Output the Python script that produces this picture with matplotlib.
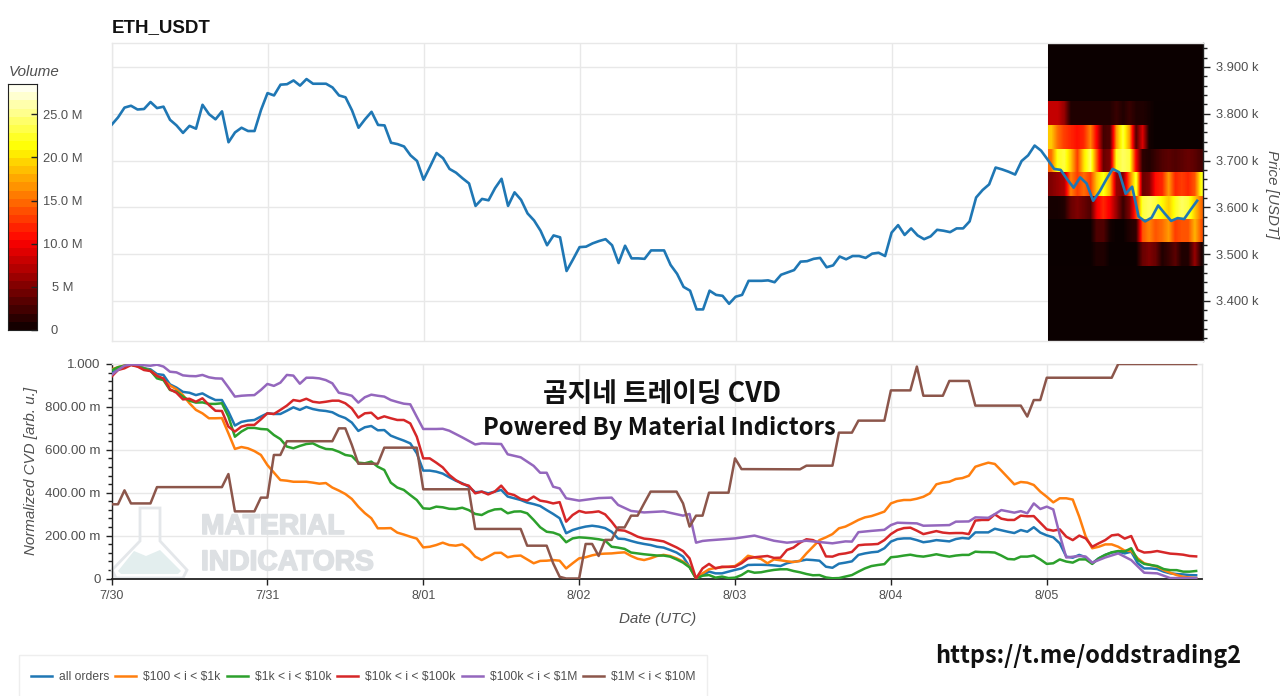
import numpy as np
import matplotlib
matplotlib.use("Agg")
from matplotlib import pyplot as plt
from matplotlib.patches import Polygon, Rectangle
import matplotlib.patheffects as pe

# --- data ---
DAY_LABELS = ["7/30", "7/31", "8/01", "8/02", "8/03", "8/04", "8/05"]
DAY_HOURS = [0, 24, 48, 72, 96, 120, 144]

price = [
    3776, 3792, 3813, 3817, 3809, 3810, 3825, 3812, 3815, 3787, 3775, 3759, 3774, 3768, 3819, 3799, 3788, 3805, 3739, 3760, 3770, 3763, 3763, 3808,
    3844, 3839, 3862, 3863, 3871, 3860, 3874, 3864, 3864, 3864, 3856, 3839, 3835, 3807, 3770, 3788, 3804, 3776, 3775, 3738, 3735, 3730, 3711, 3699,
    3659, 3687, 3716, 3705, 3682, 3674, 3662, 3651, 3603, 3618, 3615, 3641, 3661, 3603, 3632, 3616, 3587, 3572, 3550, 3519, 3540, 3536, 3464, 3489,
    3515, 3516, 3523, 3528, 3532, 3519, 3481, 3518, 3491, 3491, 3490, 3508, 3508, 3508, 3477, 3458, 3430, 3422, 3382, 3382, 3422, 3413, 3411, 3394,
    3409, 3413, 3443, 3443, 3443, 3444, 3440, 3456, 3461, 3466, 3484, 3485, 3490, 3492, 3472, 3476, 3495, 3489, 3496, 3496, 3492, 3501, 3503, 3496,
    3546, 3562, 3541, 3555, 3540, 3532, 3538, 3552, 3550, 3547, 3555, 3555, 3570, 3621, 3637, 3649, 3685, 3681, 3676, 3670, 3699, 3711, 3732, 3721,
    3702, 3682, 3680, 3660, 3642, 3664, 3651, 3614, 3634, 3659, 3682, 3675, 3629, 3644, 3580, 3570, 3578, 3604, 3587, 3571, 3577, 3575, 3595, 3614,
]

# volume heatmap for 8/05, one row per 50 USD price bin, one value per hour (M)
vol_3800 = [8, 8, 6, 1, 1, 1, 1, 1, 1, 1, 2, 1, 2, 1, 1, 0.5, 0, 0, 0, 0, 0, 0, 0, 0]
vol_3750 = [19, 15, 13, 12, 11, 12, 16, 10, 2.5, 3, 17, 23, 17, 3, 9, 0.5, 0, 0, 0, 0, 0, 0, 0, 0]
vol_3700 = [15, 22, 23, 19, 13, 20, 24, 14, 4, 5, 22, 24, 23, 10, 1.5, 1, 2, 3, 3.5, 3, 3.5, 4, 3.5, 2.5]
vol_3650 = [5, 6, 7, 16, 13, 15, 13, 19, 22, 18, 6, 5, 15, 23, 4, 5, 11, 12, 17, 12, 13, 12, 14, 22]
vol_3600 = [0.5, 0.5, 1, 4, 5, 4, 3, 10, 12, 10, 6, 2, 5, 13, 23, 24, 23, 21, 19, 22, 24, 23, 19, 15]
vol_3550 = [0, 0, 0, 0, 0, 0, 0, 3, 3, 0.5, 0, 0, 1, 1.5, 14, 16, 14, 15, 17, 13, 14, 14, 18, 14]
vol_3500 = [0, 0, 0, 0, 0, 0, 0, 1, 1, 0, 0, 0, 0, 0, 4, 5, 4, 1, 2, 3.5, 1, 1, 6, 1]
VOL_BIN_EDGES = [3475, 3525, 3575, 3625, 3675, 3725, 3775, 3825]
VOLUME_TICKS = [0, 5, 10, 15, 20, 25]
VOLUME_LABELS = ["0", "5 M", "10.0 M", "15.0 M", "20.0 M", "25.0 M"]

all_orders = [
    .956, .975, .988, .997, .994, .980, .975, .953, .949, .905, .890, .870, .866, .855, .863, .846, .832, .832, .778, .713, .730, .736, .739, .755,
    .770, .767, .767, .782, .798, .786, .800, .790, .784, .781, .775, .759, .748, .727, .688, .705, .711, .691, .692, .666, .654, .643, .630, .584,
    .503, .503, .498, .489, .472, .456, .444, .428, .402, .405, .397, .405, .413, .382, .374, .366, .354, .347, .338, .319, .301, .281, .211, .226,
    .235, .242, .246, .242, .235, .218, .186, .184, .175, .167, .161, .156, .148, .144, .133, .121, .102, .055, 0, .016, .032, .024, .024, .032,
    .040, .047, .063, .064, .064, .063, .061, .058, .071, .078, .082, .088, .086, .083, .055, .050, .069, .074, .080, .110, .117, .122, .125, .141,
    .172, .184, .187, .187, .179, .169, .173, .179, .176, .173, .184, .189, .186, .215, .215, .215, .232, .225, .218, .212, .226, .218, .239, .214,
    .201, .192, .164, .102, .097, .110, .099, .071, .094, .110, .121, .125, .117, .125, .071, .047, .047, .044, .032, .024, .021, .019, .016, .015,
]
orders_100_1k = [
    .975, .985, .993, .997, .990, .980, .969, .945, .925, .900, .882, .855, .817, .786, .770, .747, .747, .748, .677, .604, .613, .607, .594, .576,
    .529, .494, .459, .456, .451, .451, .451, .447, .442, .445, .424, .410, .394, .371, .335, .305, .281, .234, .234, .235, .214, .205, .195, .186,
    .145, .148, .156, .167, .156, .153, .159, .136, .102, .086, .102, .119, .120, .099, .105, .107, .089, .071, .082, .083, .086, .083, .047, .071,
    .094, .099, .108, .114, .116, .117, .120, .122, .105, .092, .086, .094, .105, .110, .105, .094, .079, .055, 0, .024, .043, .049, .052, .055,
    .058, .078, .106, .099, .091, .071, .089, .085, .080, .077, .082, .117, .148, .179, .192, .207, .234, .242, .257, .273, .285, .291, .301, .312,
    .350, .361, .366, .366, .372, .381, .397, .439, .447, .451, .464, .468, .479, .521, .531, .540, .534, .503, .471, .439, .450, .447, .436, .405,
    .381, .355, .374, .374, .368, .288, .195, .141, .148, .159, .159, .148, .130, .128, .094, .071, .063, .055, .039, .027, .016, .008, .005, .002,
]
orders_1k_10k = [
    .970, .985, .992, .997, .990, .980, .969, .933, .925, .879, .871, .848, .829, .820, .821, .814, .814, .817, .755, .661, .685, .702, .702, .697,
    .695, .669, .650, .615, .607, .618, .627, .630, .615, .604, .602, .591, .576, .571, .540, .537, .545, .521, .506, .447, .424, .413, .389, .366,
    .327, .325, .335, .332, .325, .324, .330, .319, .301, .296, .312, .322, .324, .304, .312, .313, .304, .273, .239, .218, .214, .203, .169, .187,
    .192, .190, .187, .183, .177, .148, .144, .138, .121, .117, .113, .110, .107, .107, .102, .089, .074, .052, 0, .013, .016, .004, .009, .002,
    .004, .016, .035, .027, .029, .035, .040, .043, .043, .035, .029, .021, .015, .016, .005, .001, .002, .009, .016, .032, .047, .058, .063, .067,
    .099, .102, .107, .111, .105, .102, .107, .113, .107, .102, .107, .110, .110, .125, .123, .123, .121, .107, .091, .089, .102, .102, .107, .089,
    .068, .071, .089, .079, .074, .089, .089, .068, .094, .110, .122, .128, .126, .141, .086, .068, .063, .058, .044, .039, .039, .032, .032, .035,
]
orders_10k_100k = [
    .941, .972, .980, .995, .988, .972, .967, .944, .933, .882, .866, .835, .838, .824, .840, .809, .782, .781, .708, .685, .708, .716, .716, .742,
    .770, .767, .786, .806, .832, .827, .838, .824, .820, .824, .829, .829, .817, .793, .750, .770, .773, .745, .756, .747, .739, .739, .723, .661,
    .560, .560, .540, .518, .483, .459, .441, .433, .397, .405, .392, .405, .433, .397, .389, .371, .363, .382, .363, .358, .350, .356, .265, .296,
    .315, .307, .309, .313, .299, .265, .226, .223, .210, .195, .186, .183, .178, .173, .159, .145, .128, .094, 0, .047, .068, .047, .055, .054,
    .055, .071, .094, .099, .102, .105, .096, .097, .133, .144, .167, .183, .179, .164, .103, .102, .113, .117, .124, .155, .158, .159, .161, .179,
    .207, .226, .235, .237, .223, .207, .214, .221, .214, .211, .212, .212, .207, .270, .273, .273, .299, .279, .273, .273, .293, .290, .291, .260,
    .229, .223, .229, .195, .179, .200, .187, .148, .164, .179, .201, .205, .186, .198, .133, .121, .123, .128, .122, .116, .114, .111, .105, .103,
]
hours_100k_1m = [
    0, 1, 2, 3, 4, 5, 6, 7, 8, 9, 10, 11, 12, 13, 14, 15, 16, 17, 18, 19, 20, 21, 22, 23, 24, 25, 26, 27, 28, 29, 30, 31, 32, 33, 34, 35, 36, 37, 38, 39, 40, 41, 42, 43, 44, 45, 46, 47, 48,
    50, 51, 52, 54, 56, 57, 60, 61, 63, 65, 66, 67, 68, 69, 70, 72, 75, 77, 78, 80, 82, 85, 88, 89, 90, 91, 92, 96, 99, 102, 104, 107, 111, 113, 114, 115, 117, 119,
    120, 121, 124, 125, 129, 130, 132, 133, 135, 136, 137, 139, 140, 141, 142, 143, 144, 145, 146, 147, 149, 150, 151, 153, 155, 157, 159, 161, 163, 167,
]
orders_100k_1m = [
    .949, .972, .992, .998, .997, .994, .992, .997, .988, .964, .961, .947, .944, .943, .949, .938, .933, .932, .891, .848, .852, .854, .855, .879, .907, .898, .913, .949, .946, .908, .936, .936, .933, .925, .910, .866, .860, .852, .820, .845, .857, .852, .848, .832, .823, .815, .812, .754, .697,
    .697, .698, .689, .658, .625, .630, .627, .579, .565, .525, .493, .493, .428, .420, .374, .363, .375, .377, .343, .315, .308, .313, .293, .301, .167, .175, .178, .187, .200, .176, .167, .176, .164, .173, .172, .216, .222, .227,
    .249, .260, .257, .246, .249, .265, .266, .285, .283, .300, .319, .307, .314, .304, .350, .324, .335, .322, .203, .098, .105, .102, .074, .098, .117, .086, .027, .024, .002, .002,
]
hours_1m_10m = [
    0, 1, 2, 3, 6, 7, 17, 18, 19, 22, 23, 24, 25, 26, 27, 34, 35, 36, 37, 38, 41, 42, 47, 48, 55, 56, 63, 64, 67, 68, 69, 70, 72, 73, 74, 75, 76, 77, 78, 79, 80, 81, 82, 83, 87, 88, 89, 90, 91, 92, 95, 96, 97, 106, 107, 111, 112,
    114, 115, 119, 120, 123, 124, 125, 128, 129, 132, 133, 140, 141, 142, 143, 144, 154, 155, 167,
]
orders_1m_10m = [
    .346, .346, .411, .350, .350, .426, .426, .487, .313, .313, .377, .377, .576, .576, .640, .640, .700, .700, .623, .535, .535, .610, .610, .416, .416, .231, .231, .153, .153, .071, .008, 0, 0, .161, .161, .105, .180, .180, .238, .238, .293, .293, .350, .405, .405, .350, .242, .293, .293, .400, .400, .560, .510, .509, .526, .526, .680,
    .680, .736, .736, .877, .877, .988, .852, .852, .921, .921, .806, .806, .755, .832, .832, .936, .936, 1.0, 1.0,
]
SERIES_LABELS = ["all orders", r"\$100 < i < \$1k", r"\$1k < i < \$10k", r"\$10k < i < \$100k", r"\$100k < i < \$1M", r"\$1M < i < \$10M"]
SERIES_COLORS = ["#1f77b4", "#ff7f0e", "#2ca02c", "#d62728", "#9467bd", "#8c564b"]

# --- figure, everything placed in reference pixels ---
W, H = 1280, 696
TXT = "#505050"
GRID = "#e8e8e8"
DARK = "#222222"
ITALIC_SIZE = 10.9
plt.rcParams["font.family"] = ["Liberation Sans", "DejaVu Sans"]


def px_axes(left, top, right, bottom):
    return fig.add_axes([left / W, 1 - bottom / H, (right - left) / W, (bottom - top) / H])


def fx(x):
    return x / W


def fy(y):
    return 1 - y / H


def style_axis(ax):
    ax.set_xlim(0, 167.9)
    ax.grid(True, color=GRID, lw=1)
    ax.set_axisbelow(True)
    for s in ax.spines.values():
        s.set_color(GRID)
        s.set_linewidth(1)
    ax.tick_params(colors=TXT, labelsize=9.3)


fig = plt.figure(figsize=(W / 100, H / 100), dpi=100)
HOT = plt.get_cmap("hot")
VMAX = 28.5

# price panel
ax = px_axes(111.5, 43, 1203, 341)
style_axis(ax)
ax.set_xticks(DAY_HOURS)
ax.tick_params(axis="x", length=0, labelbottom=False)
ax.yaxis.tick_right()
ax.set_yticks([3400, 3500, 3600, 3700, 3800, 3900])
ax.set_yticklabels(["3.400 k", "3.500 k", "3.600 k", "3.700 k", "3.800 k", "3.900 k"])
ax.set_yticks(np.arange(3320, 3960, 20), minor=True)
ax.tick_params(axis="y", which="major", length=5, width=1, color=DARK, pad=4)
ax.tick_params(axis="y", which="minor", length=3, width=1, color=DARK)
ax.spines["right"].set_color(DARK)
fig.text(fx(112), fy(27.5), "ETH_USDT", fontsize=13.5, fontweight="bold", color="#111111", va="center", ha="left")
fig.text(fx(1272), fy(194), "Price [USDT]", rotation=270, style="italic", fontsize=ITALIC_SIZE, color=TXT, ha="center", va="center")

ax.axvspan(144, 168, color=HOT(0), zorder=1.4, lw=0)
vol_rows = [vol_3500, vol_3550, vol_3600, vol_3650, vol_3700, vol_3750, vol_3800]
for row, lo, hi in zip(vol_rows, VOL_BIN_EDGES[:-1], VOL_BIN_EDGES[1:]):
    # one row at a time, so the smoothing only runs along the time axis
    ax.imshow([row], extent=(144, 168, lo, hi), origin="lower", aspect="auto", cmap=HOT, vmin=0, vmax=VMAX,
              interpolation="bilinear", zorder=1.5)
ax.plot(np.arange(len(price)), price, color="#1f77b4", lw=1.9, zorder=3)
ax.set_xlim(0, 167.9)
ax.set_ylim(3314.5, 3951)

# normalized CVD panel
ax2 = px_axes(111.5, 364, 1202, 578.5)
style_axis(ax2)
ax2.set_ylim(0, 1)
ax2.set_xticks(DAY_HOURS)
ax2.set_xticklabels(DAY_LABELS)
ax2.set_yticks([0, .2, .4, .6, .8, 1])
ax2.set_yticklabels(["0", "200.00 m", "400.00 m", "600.00 m", "800.00 m", "1.000"])
ax2.set_yticks(np.arange(0, 1.01, .04), minor=True)
ax2.tick_params(axis="both", which="major", length=4.5, width=1, color=DARK, pad=3.5, labelsize=9.6)
ax2.tick_params(axis="x", which="major", labelsize=9)
ax2.tick_params(axis="y", which="minor", length=3, width=1, color=DARK)
ax2.spines["left"].set_color(DARK)
ax2.spines["bottom"].set_color(DARK)
ax2.spines["bottom"].set_linewidth(1.3)
fig.text(fx(31), fy(471), "Normalized CVD [arb. u.]", rotation=90, style="italic", fontsize=ITALIC_SIZE, color=TXT, ha="center", va="center")
fig.text(fx(658), fy(619), "Date (UTC)", style="italic", fontsize=ITALIC_SIZE, color=TXT, ha="center", va="center")

# watermark sits under the lines
FLASK = [(140, 508), (160, 508), (160, 541), (187, 570), (183, 578), (116, 578), (112, 570), (140, 541)]
LIQUID = [(118, 571), (134, 551), (146, 556), (160, 550), (181, 571), (178, 574), (121, 574)]
ax2.add_patch(Polygon([(fx(x), fy(y)) for x, y in FLASK], closed=True, fc="none", ec="#e4e7ea", lw=2, transform=fig.transFigure, zorder=1.2, clip_on=False))
ax2.add_patch(Polygon([(fx(x), fy(y)) for x, y in LIQUID], closed=True, fc="#e3eeee", ec="none", transform=fig.transFigure, zorder=1.2, clip_on=False))
for label, y in (("MATERIAL", 527), ("INDICATORS", 563)):
    ax2.text(fx(201), fy(y), label, transform=fig.transFigure, fontweight="bold", fontsize=20.3, color="#dde0e3", ha="left", va="center",
             zorder=1.2, path_effects=[pe.withStroke(linewidth=1.2, foreground="#dde0e3")])

series = [
    (np.arange(len(all_orders)), all_orders),
    (np.arange(len(orders_100_1k)), orders_100_1k),
    (np.arange(len(orders_1k_10k)), orders_1k_10k),
    (np.arange(len(orders_10k_100k)), orders_10k_100k),
    (hours_100k_1m, orders_100k_1m),
    (hours_1m_10m, orders_1m_10m),
]
for (xs, ys), label, color in zip(series, SERIES_LABELS, SERIES_COLORS):
    ax2.plot(xs, ys, color=color, lw=1.8, label=label, zorder=3)

# legend frame runs off the bottom of the image
fig.add_artist(Rectangle((fx(19), fy(699)), 688 / W, 44 / H, transform=fig.transFigure, fc="white", ec="#eeeeee", lw=1))
handles, labels = ax2.get_legend_handles_labels()
leg = fig.legend(handles, labels, loc="center left", bbox_to_anchor=(fx(31), fy(677)), ncol=6, frameon=False, fontsize=8.7,
                 handlelength=1.74, handletextpad=0.58, columnspacing=0.5, borderpad=0, borderaxespad=0)
for t in leg.get_texts():
    t.set_color(TXT)

# colorbar
cax = px_axes(8, 84, 37, 330)
levels = np.linspace(0, VMAX, 31)
cax.pcolormesh([0, 1], levels, ((levels[:-1] + levels[1:]) / 2).reshape(-1, 1), cmap=HOT, vmin=0, vmax=VMAX)
cax.set_xticks([])
cax.yaxis.tick_right()
cax.set_yticks(VOLUME_TICKS)
cax.set_yticklabels(VOLUME_LABELS)
cax.tick_params(axis="y", direction="in", length=4, width=1, color=DARK, labelcolor=TXT, labelsize=9.3)
for tick, pad in zip(cax.yaxis.get_major_ticks(), [10, 11, 4.5, 4.5, 4.5, 4.5]):
    tick.set_pad(pad)
for s in cax.spines.values():
    s.set_color(DARK)
fig.text(fx(9), fy(72), "Volume", style="italic", fontsize=ITALIC_SIZE, color=TXT, ha="left", va="center")

# overlay captions
CJK = ["Noto Sans CJK KR", "DejaVu Sans"]
fig.text(fx(662), fy(394), "곰지네 트레이딩 CVD", family=CJK, fontweight="bold", fontsize=19.3, color="#111111", ha="center", va="center", zorder=10)
fig.text(fx(659), fy(428), "Powered By Material Indictors", family=CJK, fontweight="bold", fontsize=17.1, color="#111111", ha="center", va="center", zorder=10)
fig.text(fx(1088), fy(656), "https://t.me/oddstrading2", family=CJK, fontweight="bold", fontsize=16.9, color="#111111", ha="center", va="center", zorder=10)

fig.savefig("out.png", dpi=100)
